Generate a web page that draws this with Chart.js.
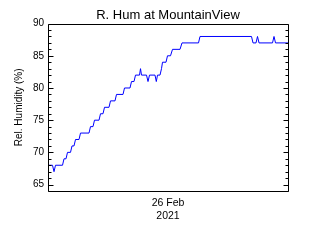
<!DOCTYPE html>
<html>
<head>
<meta charset="utf-8">
<script src="https://cdn.jsdelivr.net/npm/chart.js@4/dist/chart.umd.min.js"></script>
<style>
html,body{margin:0;padding:0;background:#fff;}
#wrap{width:320px;height:240px;position:relative;}
</style>
</head>
<body>
<div id="wrap"><canvas id="c" width="320" height="240"></canvas></div>
<script>
// Hours since 25 Feb 2021 12:00 (x axis spans 24 h, "26 Feb" tick at centre)
const hours = [0,0.45,0.6,0.75,1.45,1.6,1.8,1.95,2.25,2.4,2.6,2.75,3.1,3.25,4.1,4.25,4.5,4.65,5.1,5.25,5.5,5.65,6.1,6.25,6.7,6.85,7.5,7.65,8.2,8.35,8.6,8.75,9.15,9.25,9.35,9.85,10.0,10.15,10.7,10.83,10.95,11.2,11.35,11.45,11.8,11.95,12.25,12.45,13.2,13.4,15.05,15.2,20.35,20.5,20.8,20.95,21.1,22.45,22.6,22.75,24.0];
const humidity = [68,68,67,68,68,69,69,70,70,71,71,72,72,73,73,74,74,75,75,76,76,77,77,78,78,79,79,80,80,81,81,82,82,83,82,82,81,82,82,81,82,82,83,84,84,85,85,86,86,87,87,88,88,87,87,88,87,87,88,87,87];
const yTicks = [65,70,75,80,85,90];
const xTickValues = [12];
const xTickLabels = [["26 Feb","2021"]];
const titleText = "R. Hum at MountainView";
const yTitle = "Rel. Humidity (%)";

const points = hours.map((h,i)=>({x:h,y:humidity[i]}));
const FONT = "'Liberation Sans', Arial, sans-serif";

const framePlugin = {
  id:'frame',
  afterDraw(chart){
    const ctx = chart.ctx, a = chart.chartArea, ys = chart.scales.y;
    ctx.save();
    ctx.strokeStyle = '#000';
    ctx.lineWidth = 1;
    const L = Math.round(a.left)+0.5, R = Math.round(a.right)+0.5;
    const T = Math.round(a.top)+0.5, B = Math.round(a.bottom)+0.5;
    ctx.beginPath();
    ctx.rect(L, T, R-L, B-T);
    ctx.stroke();
    ctx.beginPath();
    for(let v=Math.ceil(ys.min); v<=ys.max; v++){
      const py = Math.round(ys.getPixelForValue(v))+0.5;
      const len = (v%5===0)?5:3;
      ctx.moveTo(L, py); ctx.lineTo(L+len, py);
      ctx.moveTo(R, py); ctx.lineTo(R-len, py);
    }
    ctx.stroke();
    ctx.restore();
  }
};

new Chart(document.getElementById('c'), {
  type:'line',
  data:{datasets:[{data:points, borderColor:'#0000ff', borderWidth:1, pointRadius:0, tension:0, fill:false}]},
  options:{
    responsive:false, animation:false, devicePixelRatio:1,
    layout:{padding:{left:0,right:32,top:0,bottom:0}},
    plugins:{
      legend:{display:false}, tooltip:{enabled:false},
      title:{display:true, fullSize:false, text:titleText, color:'#000', font:{family:FONT, size:13, weight:'normal'}, padding:{top:8,bottom:0}}
    },
    scales:{
      x:{type:'linear', min:0, max:24,
        grid:{display:false, drawTicks:false}, border:{display:false},
        afterBuildTicks(s){ s.ticks = xTickValues.map(v=>({value:v})); },
        afterFit(s){ s.height = 49; },
        ticks:{color:'#000', font:{family:FONT, size:10.5}, padding:6, maxRotation:0, autoSkip:false,
          callback(v){ const i = xTickValues.indexOf(v); return i>=0 ? xTickLabels[i] : ''; }}
      },
      y:{min:64, max:90,
        grid:{display:false, drawTicks:false}, border:{display:false},
        afterBuildTicks(s){ s.ticks = yTicks.map(v=>({value:v})); },
        afterFit(s){ s.width = 48; },
        ticks:{color:'#000', font:{family:FONT, size:10}, padding:4},
        title:{display:true, text:yTitle, color:'#000', font:{family:FONT, size:10}, padding:{top:13,bottom:0}}
      }
    }
  },
  plugins:[framePlugin]
});
</script>
</body>
</html>
